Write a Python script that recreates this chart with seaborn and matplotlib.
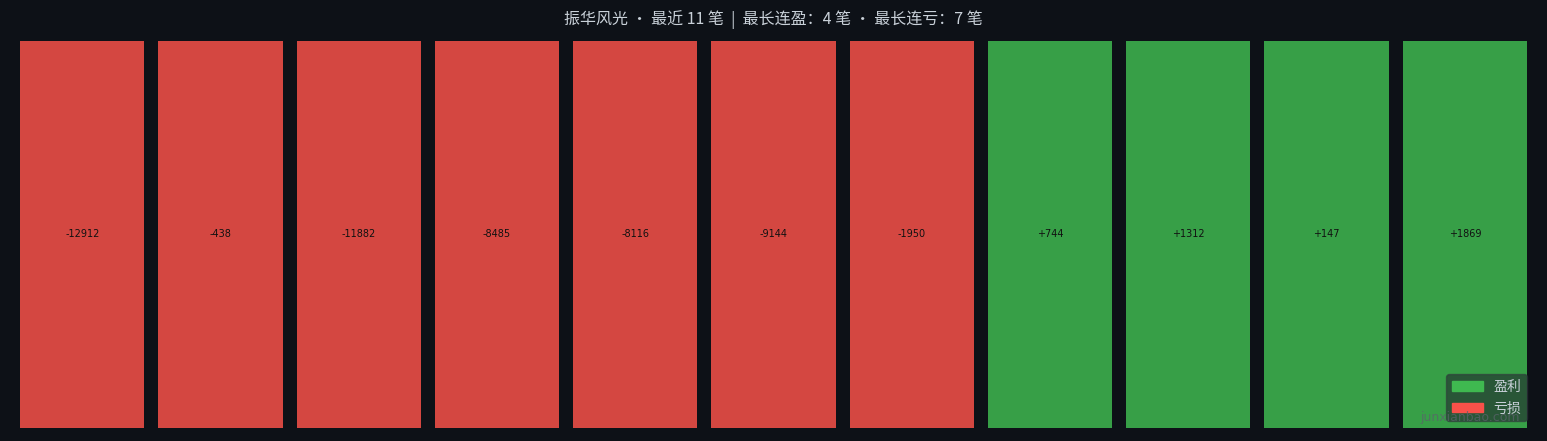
import matplotlib
matplotlib.use("Agg")
import matplotlib.pyplot as plt
from matplotlib.patches import Patch
import seaborn as sns
import pandas as pd

# recent trades, oldest first
trade_idx = list(range(11))
pnl = [-12912, -438, -11882, -8485, -8116, -9144, -1950, 744, 1312, 147, 1869]
title = "振华风光 · 最近 11 笔  |  最长连盈：4 笔 · 最长连亏：7 笔"

BG = "#0d1117"
WIN = "#3fb950"
LOSS = "#f85149"

sns.set_theme(style="dark")
plt.rcParams['font.family'] = ['Noto Sans CJK SC', 'DejaVu Sans']
plt.rcParams['axes.unicode_minus'] = False

df = pd.DataFrame({
    "idx": trade_idx,
    "pnl": pnl,
    "h": [1] * len(pnl),
    "result": ["盈利" if v > 0 else "亏损" for v in pnl],
})

fig = plt.figure(figsize=(15.47, 4.41), dpi=100, facecolor=BG)
ax = fig.add_axes([20 / 1547, 13 / 441, 1507 / 1547, 387 / 441])
ax.set_facecolor(BG)

sns.barplot(data=df, x="idx", y="h", hue="result", palette={"盈利": WIN, "亏损": LOSS},
            dodge=False, width=0.9, alpha=0.85, saturation=1, legend=False,
            linewidth=0, edgecolor="none", ax=ax)

for i, v in zip(trade_idx, pnl):
    ax.text(i, 0.502, f"{v:+d}", ha="center", va="center", fontsize=7,
            color="#111111", family=['DejaVu Sans'])

ax.set_xlim(-0.45, len(pnl) - 0.55)
ax.set_ylim(0, 1)
ax.set_xticks([])
ax.set_yticks([])
ax.set_xlabel("")
ax.set_ylabel("")
for s in ax.spines.values():
    s.set_visible(False)

fig.text(0.5, 1 - 20 / 441, title, ha="center", va="center", fontsize=11.5, color="#c9d1d9")

handles = [Patch(color=WIN, label="盈利"), Patch(color=LOSS, label="亏损")]
leg = ax.legend(handles=handles, loc="lower right", bbox_to_anchor=(1.0, 7 / 387),
                fontsize=10, frameon=True, facecolor="#21262d", edgecolor="#30363d",
                framealpha=0.6, borderaxespad=0, handlelength=2.2, labelspacing=0.55)
for t in leg.get_texts():
    t.set_color("#c9d1d9")

fig.text(1520 / 1547, 1 - 417 / 441, "junxianbao.com", ha="right", va="center",
         fontsize=9, color="#5a626b", alpha=0.75, zorder=10, family=['DejaVu Sans'])

fig.savefig("out.png", dpi=100, facecolor=BG)
